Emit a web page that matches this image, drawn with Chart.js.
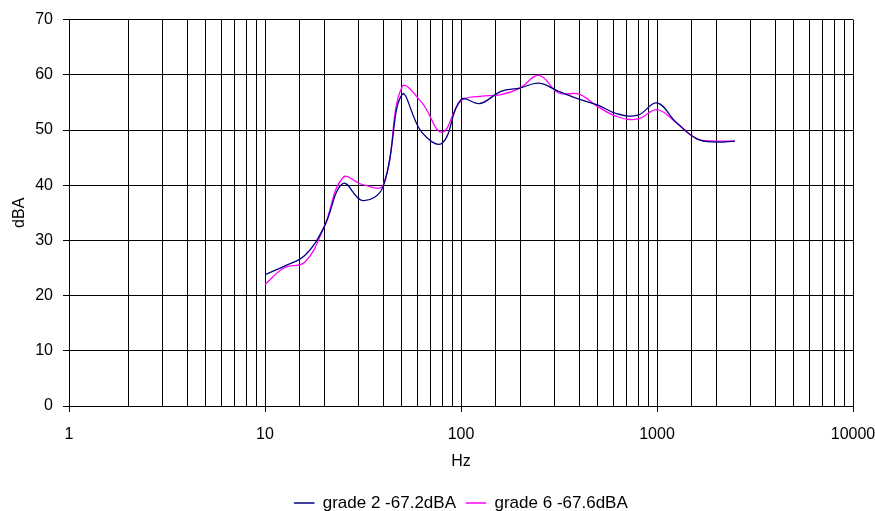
<!DOCTYPE html>
<html>
<head>
<meta charset="utf-8">
<script src="https://cdn.jsdelivr.net/npm/chart.js@4/dist/chart.umd.min.js"></script>
<style>
  html, body { margin: 0; padding: 0; background: #fff; }
  #wrap { width: 875px; height: 511px; }
</style>
</head>
<body>
<div id="wrap"><canvas id="myChart" width="875" height="511"></canvas></div>
<script>
// third-octave centre frequencies (Hz)
var freqs = [10, 12.5, 16, 20, 25, 31.5, 40, 50, 63, 80, 100, 125, 160, 200, 250, 315, 400, 500, 630, 800, 1000, 1250, 1600, 2000, 2500];

// levels (dBA)
var grade2 = [23.8, 25.3, 27.3, 32.4, 40.3, 37.2, 39.7, 56.4, 49.6, 47.6, 55.5, 54.8, 57.0, 57.6, 58.5, 57.0, 55.6, 54.5, 52.9, 52.7, 54.9, 51.4, 48.4, 47.8, 48.0];
var grade6 = [22.0, 25.0, 26.1, 32.4, 41.4, 40.1, 40.0, 57.8, 55.0, 49.6, 55.3, 56.1, 56.4, 57.6, 59.9, 56.7, 56.5, 54.2, 52.4, 52.0, 53.7, 51.4, 48.4, 48.0, 48.0];

var seriesNames = ['grade 2 -67.2dBA', 'grade 6 -67.6dBA'];
var seriesColors = ['#000080', '#FF00FF'];

var xTickLabels = [1, 10, 100, 1000, 10000];
var yMin = 0, yMax = 70, yStep = 10;

function toPoints(vals) {
  return freqs.map(function (f, i) { return { x: f, y: vals[i] }; });
}

function isDecade(v) {
  return xTickLabels.indexOf(v) !== -1;
}

// centre the legend under the plot area instead of the whole canvas
var legendShift = {
  id: 'legendShift',
  afterLayout: function (c) {
    var lg = c.legend;
    if (!lg) return;
    var off = (c.chartArea.left + c.chartArea.right) / 2 - (lg.left + lg.right) / 2;
    lg.left += off;
    lg.right += off;
  }
};

Chart.defaults.font.family = '"Liberation Sans", Arial, sans-serif';
Chart.defaults.font.size = 16;
Chart.defaults.color = '#000';

var ctx = document.getElementById('myChart').getContext('2d');
var chart = new Chart(ctx, {
  type: 'line',
  data: {
    datasets: [{
      label: seriesNames[0],
      data: toPoints(grade2),
      borderColor: seriesColors[0],
      backgroundColor: seriesColors[0],
      borderWidth: 1.3,
      pointRadius: 0,
      tension: 0.4,
      fill: false
    }, {
      label: seriesNames[1],
      data: toPoints(grade6),
      borderColor: seriesColors[1],
      backgroundColor: seriesColors[1],
      borderWidth: 1.3,
      pointRadius: 0,
      tension: 0.4,
      fill: false
    }]
  },
  plugins: [legendShift],
  options: {
    responsive: false,
    animation: false,
    layout: { padding: { top: 19, right: 22, left: 0, bottom: -10.5 } },
    plugins: {
      tooltip: { enabled: false },
      legend: {
        position: 'bottom',
        labels: {
          boxWidth: 20,
          boxHeight: 1,
          padding: 10,
          font: { size: 17 },
          generateLabels: function (c) {
            return c.data.datasets.map(function (ds, i) {
              return {
                text: ds.label,
                fillStyle: ds.borderColor,
                strokeStyle: ds.borderColor,
                lineWidth: 0.5,
                datasetIndex: i
              };
            });
          }
        }
      }
    },
    scales: {
      x: {
        type: 'logarithmic',
        min: 1,
        max: 10000,
        afterFit: function (scale) {
          scale.height = 78.5;
          // let the last label run off the edge like the original
          scale.paddingLeft = 0;
          scale.paddingRight = 0;
        },
        title: {
          display: true,
          text: 'Hz',
          font: { size: 16 },
          padding: { top: 0, bottom: 13 }
        },
        border: { color: '#000', width: 1 },
        grid: {
          color: '#000',
          lineWidth: 1,
          tickLength: 6,
          tickColor: function (c) {
            return isDecade(c.tick && c.tick.value) ? '#000' : 'rgba(0,0,0,0)';
          }
        },
        ticks: {
          autoSkip: false,
          maxRotation: 0,
          padding: 13,
          callback: function (value) {
            return isDecade(value) ? String(value) : '';
          }
        }
      },
      y: {
        min: yMin,
        max: yMax,
        afterFit: function (scale) { scale.width = 69; },
        title: {
          display: true,
          text: 'dBA',
          font: { size: 16 },
          padding: { top: 10, bottom: 0 }
        },
        border: { color: '#000', width: 1 },
        grid: {
          color: '#000',
          lineWidth: 1,
          tickLength: 6,
          tickColor: '#000'
        },
        ticks: {
          stepSize: yStep,
          padding: 10
        }
      }
    }
  }
});
</script>
</body>
</html>
